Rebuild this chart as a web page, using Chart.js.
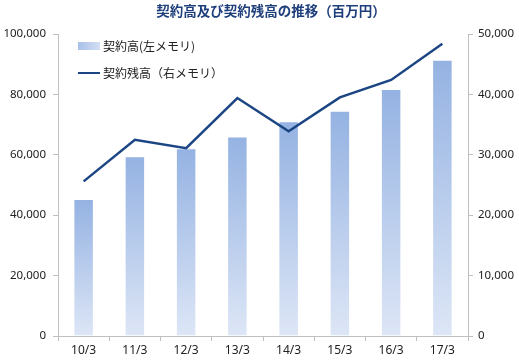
<!DOCTYPE html>
<html>
<head>
<meta charset="utf-8">
<script src="https://cdn.jsdelivr.net/npm/chart.js@4"></script>
<style>
    body { margin: 0; background: #fff; font-family: "Noto Sans CJK JP", "Noto Sans", sans-serif; }
    #wrap { position: relative; width: 519px; height: 361px; }
    #title { position: absolute; left: 0; width: 542px; top: 0px; text-align: center; font-size: 13.5px; font-weight: bold; color: #1f3f7c; }
    .legend-item { position: absolute; left: 78px; font-size: 12px; color: #222; display: flex; align-items: center; }
    .swatch-bar { width: 22px; height: 8px; margin-right: 3px; background: linear-gradient(to right, #a9c0e8, #d3def3); }
    .swatch-line { width: 22px; height: 2px; margin-right: 3px; background: #1c4584; }
</style>
</head>
<body>
<div id="wrap">
    <canvas id="chart"></canvas>
    <div id="title">契約高及び契約残高の推移（百万円）</div>
    <div class="legend-item" style="top: 37px;"><span class="swatch-bar"></span>契約高(左メモリ)</div>
    <div class="legend-item" style="top: 64px;"><span class="swatch-line"></span>契約残高（右メモリ）</div>
</div>
<script>
let categories = ['10/3', '11/3', '12/3', '13/3', '14/3', '15/3', '16/3', '17/3'];
let contractAmounts = [45400, 59500, 62200, 66100, 71100, 74600, 81800, 91500];
let contractBalances = [25600, 32500, 31100, 39400, 33900, 39500, 42400, 48400];
let leftTicks = [0, 20000, 40000, 60000, 80000, 100000];
let rightTicks = [0, 10000, 20000, 30000, 40000, 50000];

let tickFont = { family: 'Noto Sans', size: 11.5 };

function barGradient(context) {
    let chart = context.chart;
    if (!chart.chartArea) return '#a9c0e8';
    let y = chart.scales.y;
    let top = y.getPixelForValue(context.raw);
    let bottom = y.getPixelForValue(0);
    let g = chart.ctx.createLinearGradient(0, top, 0, bottom);
    g.addColorStop(0, '#94b2e2');
    g.addColorStop(1, '#dde6f6');
    return g;
}

let ctx = document.getElementById('chart').getContext('2d');
new Chart(ctx, {
    data: {
        labels: categories,
        datasets: [{
            type: 'line',
            label: '契約残高（右メモリ）',
            data: contractBalances,
            yAxisID: 'y2',
            borderColor: '#1c4584',
            borderWidth: 2.5,
            pointRadius: 0,
            tension: 0,
            order: 0
        }, {
            type: 'bar',
            label: '契約高(左メモリ)',
            data: contractAmounts,
            yAxisID: 'y',
            backgroundColor: barGradient,
            borderColor: 'rgba(255, 255, 255, 0.7)',
            borderWidth: 1,
            categoryPercentage: 1,
            barPercentage: 0.4,
            order: 1
        }]
    },
    options: {
        responsive: true,
        maintainAspectRatio: false,
        animation: false,
        layout: { padding: { top: 34, left: 0, right: 0, bottom: 0 } },
        plugins: { legend: { display: false }, title: { display: false }, tooltip: { enabled: false } },
        scales: {
            x: {
                grid: { drawOnChartArea: false, drawTicks: true, tickLength: 5, color: '#bfbfbf', offset: true },
                border: { color: '#bfbfbf' },
                ticks: { color: '#222', font: { family: 'Noto Sans', size: 12 }, padding: 2 },
                afterFit: scale => { scale.height = 25; }
            },
            y: {
                position: 'left',
                min: 0,
                max: 100000,
                afterBuildTicks: scale => { scale.ticks = leftTicks.map(v => ({ value: v })); },
                grid: { drawOnChartArea: false, drawTicks: true, tickLength: 5, color: '#bfbfbf' },
                border: { color: '#bfbfbf' },
                ticks: { color: '#222', font: tickFont, padding: 7, callback: v => v.toLocaleString('en-US') },
                afterFit: scale => { scale.width = 58; }
            },
            y2: {
                position: 'right',
                min: 0,
                max: 50000,
                afterBuildTicks: scale => { scale.ticks = rightTicks.map(v => ({ value: v })); },
                grid: { drawOnChartArea: false, drawTicks: true, tickLength: 5, color: '#bfbfbf' },
                border: { color: '#bfbfbf' },
                ticks: { color: '#222', font: tickFont, padding: 5, callback: v => v.toLocaleString('en-US') },
                afterFit: scale => { scale.width = 51; }
            }
        }
    }
});
</script>
</body>
</html>
